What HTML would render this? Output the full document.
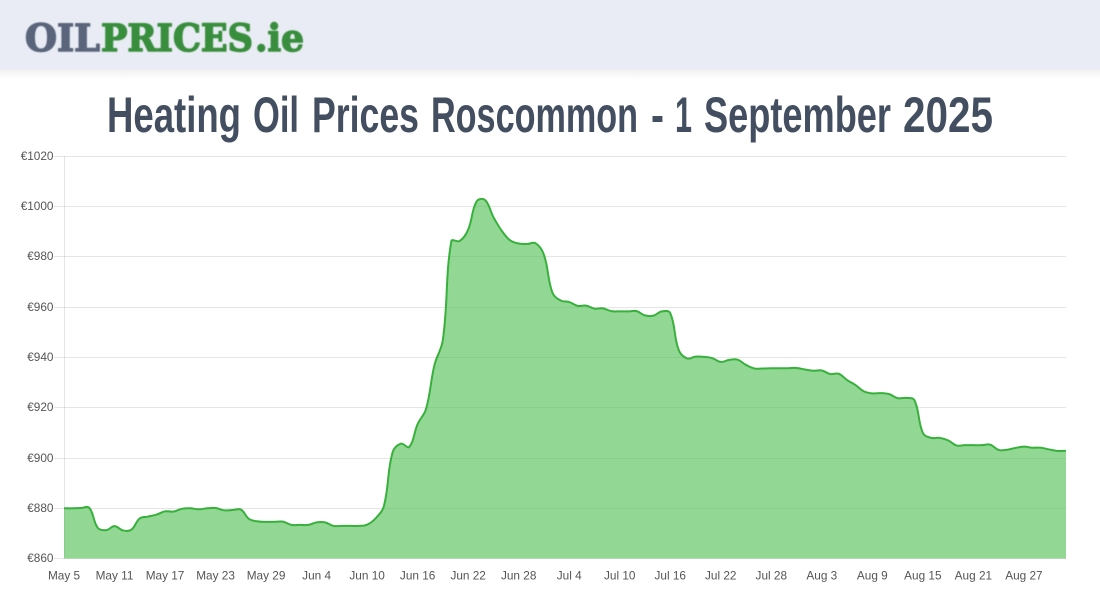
<!DOCTYPE html>
<html lang="en">
<head>
<meta charset="utf-8">
<title>Heating Oil Prices Roscommon - 1 September 2025</title>
<style>
  html, body { margin: 0; padding: 0; background: #fff; width: 1100px; height: 600px; overflow: hidden; }
  #stage { position: absolute; left: 0; top: 0; display: block; }
  .tick { font-family: "Liberation Sans", Arial, sans-serif; font-size: 11.8px; fill: #555; }
</style>
</head>
<body>
<svg id="stage" width="1100" height="600" viewBox="0 0 1100 600" xmlns="http://www.w3.org/2000/svg">
  <defs>
    <linearGradient id="hdrShadow" x1="0" y1="0" x2="0" y2="1">
      <stop offset="0" stop-color="#000" stop-opacity="0.05"/>
      <stop offset="1" stop-color="#000" stop-opacity="0"/>
    </linearGradient>
    <filter id="soft" x="-5%" y="-20%" width="110%" height="140%">
      <feGaussianBlur stdDeviation="0.6"/>
    </filter>
    <clipPath id="plotClip"><rect x="64" y="156" width="1002" height="402.6"/></clipPath>
  </defs>

  <rect x="0" y="0" width="1100" height="70" fill="#e9ecf4"/>
  <rect x="0" y="70" width="1100" height="10" fill="url(#hdrShadow)"/>

  <g filter="url(#soft)" font-family="'DejaVu Serif', 'Liberation Serif', serif" font-weight="700" font-size="37" stroke-width="1.5" stroke-linejoin="round">
    <text x="25" y="51" textLength="75" lengthAdjust="spacingAndGlyphs" fill="#5a657c" stroke="#5a657c">OIL</text>
    <text x="101" y="51" textLength="152" lengthAdjust="spacingAndGlyphs" fill="#388e3c" stroke="#388e3c">PRICES</text>
    <text x="255" y="51" textLength="49" lengthAdjust="spacingAndGlyphs" fill="#388e3c" stroke="#388e3c">.ie</text>
  </g>

  <text y="132" font-family="'Liberation Sans', Arial, sans-serif" font-weight="700" font-size="50" fill="#434f60"><tspan x="107" y="132" textLength="134" lengthAdjust="spacingAndGlyphs">Heating</tspan> <tspan x="253" y="132" textLength="46" lengthAdjust="spacingAndGlyphs">Oil</tspan> <tspan x="312" y="132" textLength="107" lengthAdjust="spacingAndGlyphs">Prices</tspan> <tspan x="431" y="132" textLength="207" lengthAdjust="spacingAndGlyphs">Roscommon</tspan> <tspan x="651" y="132" textLength="13" lengthAdjust="spacingAndGlyphs">-</tspan> <tspan x="675" y="132" textLength="17" lengthAdjust="spacingAndGlyphs">1</tspan> <tspan x="704" y="132" textLength="187" lengthAdjust="spacingAndGlyphs">September</tspan> <tspan x="903" y="132" textLength="90" lengthAdjust="spacingAndGlyphs">2025</tspan></text>

  <g id="chart"></g>
</svg>

<script>
const yTickValues = [860, 880, 900, 920, 940, 960, 980, 1000, 1020];
const xTickLabels = ["May 5", "May 11", "May 17", "May 23", "May 29", "Jun 4", "Jun 10", "Jun 16", "Jun 22", "Jun 28", "Jul 4", "Jul 10", "Jul 16", "Jul 22", "Jul 28", "Aug 3", "Aug 9", "Aug 15", "Aug 21", "Aug 27"];
const xTickEvery = 6;
const prices = [
  880, 880, 880.1, 880.2, 872.3, 871.3, 872.9, 871.2, 871.5, 876,
  876.7, 877.5, 878.8, 878.7, 879.8, 880, 879.6, 880, 880.1, 879.2,
  879.3, 879.5, 875.7, 874.8, 874.6, 874.6, 874.7, 873.4, 873.4, 873.4,
  874.4, 874.4, 873, 873, 873, 873, 873.5, 876, 881, 902,
  905.7, 904.4, 913.5, 919.5, 937, 947, 986.2, 986.3, 990.8, 1002,
  1002.6, 995.8, 990.3, 986.5, 985.3, 985.1, 985.4, 980.8, 965.8, 962.6,
  962, 960.5, 960.6, 959.4, 959.5, 958.4, 958.3, 958.3, 958.4, 956.7,
  956.6, 958.3, 957.6, 943, 939.6, 940.3, 940.2, 939.7, 938.2, 939,
  939.1, 937, 935.6, 935.6, 935.7, 935.7, 935.7, 935.8, 935.2, 934.7,
  934.8, 933.4, 933.5, 931, 929, 926.5, 925.7, 925.8, 925.4, 923.8,
  923.9, 923, 910, 908, 908, 907, 905, 905.1, 905.1, 905.1,
  905.3, 903.2, 903.3, 904, 904.5, 904.1, 904.1, 903.4, 902.8, 902.9
];

const NS = "http://www.w3.org/2000/svg";
const chart = document.getElementById("chart");
const plotLeft = 64, plotRight = 1066, plotTop = 156.2, plotBottom = 558.6;
const yMin = yTickValues[0], yMax = yTickValues[yTickValues.length - 1];

function xScale(i) { return plotLeft + i * (plotRight - plotLeft) / (prices.length - 1); }
function yScale(v) { return plotBottom - (v - yMin) * (plotBottom - plotTop) / (yMax - yMin); }

function make(tag, attrs) {
  const el = document.createElementNS(NS, tag);
  for (const k in attrs) el.setAttribute(k, attrs[k]);
  return el;
}

// Horizontal grid lines, tick marks and y labels
yTickValues.forEach(function (v) {
  const y = Math.floor(yScale(v)) + 0.5;
  const grid = make("line", { x1: 54, x2: plotRight, y1: y, y2: y, stroke: "rgba(0,0,0,0.1)", "stroke-width": 1 });
  
  
  chart.appendChild(grid);
  const label = make("text", { x: 53.5, y: y + 3.5, "text-anchor": "end", class: "tick" });
  
  
  label.textContent = "\u20AC" + v;
  chart.appendChild(label);
});

// Vertical axis line
const yAxis = make("line", { x1: plotLeft + 0.5, x2: plotLeft + 0.5, y1: plotTop, y2: plotBottom, stroke: "rgba(0,0,0,0.1)", "stroke-width": 1 });


chart.appendChild(yAxis);

// X labels
xTickLabels.forEach(function (t, n) {
  const label = make("text", { x: xScale(n * xTickEvery), y: 579.5, "text-anchor": "middle", class: "tick" });
  
  
  label.textContent = t;
  chart.appendChild(label);
});

// Smoothed curve through the points (tension 0.4 spline)
function splinePath(pts, tension) {
  const ctrl = pts.map(function (p, i) {
    const prev = pts[Math.max(i - 1, 0)], next = pts[Math.min(i + 1, pts.length - 1)];
    const d01 = Math.hypot(p[0] - prev[0], p[1] - prev[1]);
    const d12 = Math.hypot(next[0] - p[0], next[1] - p[1]);
    const total = (d01 + d12) || 1;
    const fa = tension * d01 / total, fb = tension * d12 / total;
    return {
      px: p[0] - fa * (next[0] - prev[0]), py: p[1] - fa * (next[1] - prev[1]),
      nx: p[0] + fb * (next[0] - prev[0]), ny: p[1] + fb * (next[1] - prev[1])
    };
  });
  let d = "M" + pts[0][0].toFixed(2) + " " + pts[0][1].toFixed(2);
  for (let i = 1; i < pts.length; i++) {
    d += "C" + ctrl[i - 1].nx.toFixed(2) + " " + ctrl[i - 1].ny.toFixed(2) + " " +
         ctrl[i].px.toFixed(2) + " " + ctrl[i].py.toFixed(2) + " " +
         pts[i][0].toFixed(2) + " " + pts[i][1].toFixed(2);
  }
  return d;
}

const points = prices.map(function (v, i) { return [xScale(i), yScale(v)]; });
const curve = splinePath(points, 0.4);

const area = make("path", {
  d: curve + "L" + plotRight + " " + plotBottom + "L" + plotLeft + " " + plotBottom + "Z",
  fill: "rgba(73,188,77,0.6)", "clip-path": "url(#plotClip)"
});


chart.appendChild(area);

const line = make("path", {
  d: curve, fill: "none", stroke: "rgb(56,176,60)", "stroke-width": 2, "stroke-linejoin": "round"
});


chart.appendChild(line);
</script>
</body>
</html>
